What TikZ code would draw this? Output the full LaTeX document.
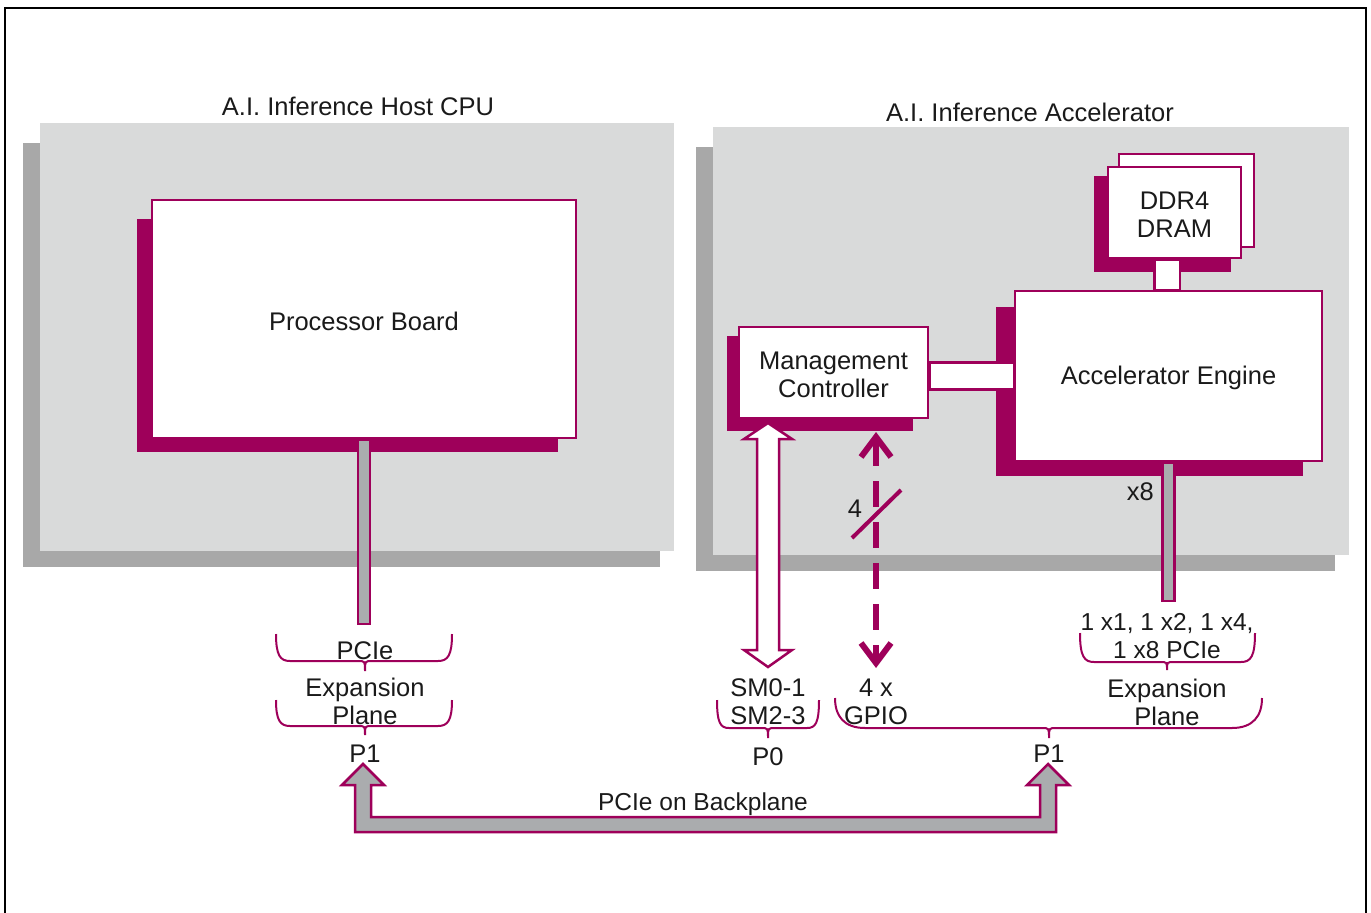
\documentclass[tikz,border=0pt]{standalone}
\usepackage{fontspec}
\setmainfont{Liberation Sans}
\usetikzlibrary{arrows.meta,calc}
\definecolor{mag}{RGB}{158,0,90}
\definecolor{panelgray}{RGB}{217,218,218}
\definecolor{panelshade}{RGB}{168,168,168}
\definecolor{busgray}{RGB}{170,172,174}
\definecolor{ink}{RGB}{26,26,26}
\pgfdeclarelayer{bottom}
\pgfdeclarelayer{back}
\pgfdeclarelayer{shade}
\pgfsetlayers{bottom,back,shade,main}
\newcommand{\lbl}{\fontsize{25.5}{28}\selectfont}
\newcommand{\lblsmall}{\fontsize{24.5}{28}\selectfont}
% upward curly bracket: left, right, centre, top, bottom, tip, corner radius
\newcommand{\upbrace}[7]{%
  \draw[bracestroke] (#1,#4) .. controls (#1,{#5-#7*0.4}) and ({#1+#7*0.3},#5) .. ({#1+#7},#5)
    -- ({#3-7},#5) .. controls (#3,#5) .. (#3,#6)
    .. controls (#3,#5) .. ({#3+7},#5) -- ({#2-#7},#5)
    .. controls ({#2-#7*0.3},#5) and (#2,{#5-#7*0.4}) .. (#2,#4);}
\tikzset{
  every node/.style={font=\lbl, text=ink, align=center, inner sep=0pt},
  panel/.style={fill=panelgray, minimum width=#1, minimum height=428},
  whitebox/.style={draw=mag, line width=2.5pt, fill=white},
  boxtext/.style={label={[yshift=-2pt]center:#1}},
  linkbar/.style={draw=mag, line width=2.5pt, fill=white},
  busbar/.style={draw=mag, line width=2.5pt, fill=busgray, line join=miter},
  hollowarrow/.style={draw=mag, line width=2.5pt, fill=white, line join=miter},
  bracestroke/.style={draw=mag, line width=2pt},
  gpio/.style={draw=mag, line width=6pt, dash pattern=on 26pt off 15pt,
    {Straight Barb[length=20pt,width=30pt]}-{Straight Barb[length=20pt,width=30pt]}},
}
\begin{document}
\begin{tikzpicture}[x=1pt,y=-1pt]
\useasboundingbox (0,0) rectangle (1371,913);

% outer frame
\draw[line width=2.5pt, black] (5,913) -- (5,8) -- (1366,8) -- (1366,913);

% the two panels and their shadows
\begin{pgfonlayer}{back}
  \node[panel=634] (host) at (357,337) {};
  \node[panel=636] (accel) at (1031,341) {};
\end{pgfonlayer}
\begin{pgfonlayer}{bottom}
  \fill[panelshade] ([shift={(-17,20)}]host.north west) rectangle ([shift={(-14,16)}]host.south east);
  \fill[panelshade] ([shift={(-17,20)}]accel.north west) rectangle ([shift={(-14,16)}]accel.south east);
\end{pgfonlayer}

% boards
\node[whitebox, minimum width=424, minimum height=238, boxtext={Processor Board}] (pb) at (364,319) {};
\node[whitebox, minimum width=189, minimum height=91, boxtext={Management\\Controller}] (mc) at (833.5,372.5) {};
\node[whitebox, minimum width=307, minimum height=170, boxtext={Accelerator Engine}] (eng) at (1168.5,376) {};
\node[whitebox, minimum width=135, minimum height=93] (dramB) at (1186.5,200.5) {};
\node[whitebox, minimum width=133, minimum height=91, boxtext={DDR4\\DRAM}] (dram) at (1174.5,212.5) {};

% board shadows
\begin{pgfonlayer}{shade}
  \fill[mag] ([shift={(-14,20)}]pb.north west) rectangle ([shift={(-19,13)}]pb.south east);
  \fill[mag] ([shift={(-11,10)}]mc.north west) rectangle ([shift={(-16,12)}]mc.south east);
  \fill[mag] ([shift={(-18,17)}]eng.north west) rectangle ([shift={(-20,14)}]eng.south east);
  \fill[mag] ([shift={(-13,10)}]dram.north west) rectangle ([shift={(-11,13)}]dram.south east);
\end{pgfonlayer}

% internal links
\path (mc.east |- eng.west) coordinate (mcR);
\draw[linkbar] ($(mcR)+(0,-13.5)$) rectangle ($(eng.west)+(0,13.5)$);
\draw[linkbar] ([xshift=-20]dram.south) rectangle ([xshift=5.5]dram.south |- eng.north);

% PCIe buses leaving the boards
\coordinate (pcieEnd) at (364,624);
\coordinate (x8End) at (1168.5,601);
\draw[busbar] ([xshift=-6]pb.south) rectangle ([xshift=6]pcieEnd);
\draw[busbar] ([xshift=-6]eng.south) rectangle ([xshift=6]x8End);

% SMBus double arrow
\coordinate (smT) at (768,423);
\coordinate (smB) at (768,667);
\draw[hollowarrow] (smT) -- ++(24,16) -- ++(-13,0) -- ([shift={(11,-17)}]smB) -- ++(13,0)
  -- (smB) -- ++(-24,-17) -- ++(13,0) -- ([shift={(-11,16)}]smT) -- ++(-13,0) -- cycle;

% GPIO dashed arrow with bus-width mark
\coordinate (gpT) at (876,432);
\coordinate (gpB) at (876,668);
\draw[gpio] (gpT) -- (gpB);
\draw[mag, line width=4pt] (852,538) -- (901,490);

% brackets
\upbrace{276}{452}{365}{634}{661}{671}{14}
\upbrace{276}{452}{365}{700}{726}{735}{14}
\upbrace{717}{819}{768}{700}{728}{738}{12}
\upbrace{1080}{1255}{1167}{633}{662}{670}{14}
\upbrace{835}{1262}{1049}{698}{728}{738}{30}

% backplane link
\coordinate (bpL) at (363,764);
\coordinate (bpR) at (1048,764);
\draw[busbar] (bpL) -- ++(21,21) -- ++(-13,0) -- ++(0,32) -- ([shift={(-8,53)}]bpR)
  -- ([shift={(-8,21)}]bpR) -- ++(-13,0) -- (bpR) -- ++(21,21) -- ++(-13,0)
  -- ([shift={(8,68)}]bpR) -- ([shift={(-8,68)}]bpL) -- ([shift={(-8,21)}]bpL)
  -- ++(-13,0) -- cycle;

% labels
\begin{scope}[yshift=-2pt]
\node (hostT) at (358,104) {A.I. Inference Host CPU};
\node (accT) at (1030,110) {A.I. Inference Accelerator};
\node (four) at (855,507) {4};
\node[anchor=east] (x8) at (1154,490) {x8};
\node (pcieL) at (365,649) {PCIe};
\node (expL) at (365,699.5) {Expansion\\Plane};
\node (p1L) at (365,752) {P1};
\node (sm) at (768,700) {SM0-1\\SM2-3};
\node (p0) at (768,755) {P0};
\node (gpio) at (876,700) {4 x\\GPIO};
\node[font=\lblsmall] (lanes) at (1167,634) {1 x1, 1 x2, 1 x4,\\1 x8 PCIe};
\node (expR) at (1167,700) {Expansion\\Plane};
\node (p1R) at (1049,752) {P1};
\node[font=\lblsmall] (bp) at (703,802) {PCIe on Backplane};
\end{scope}
\end{tikzpicture}
\end{document}
